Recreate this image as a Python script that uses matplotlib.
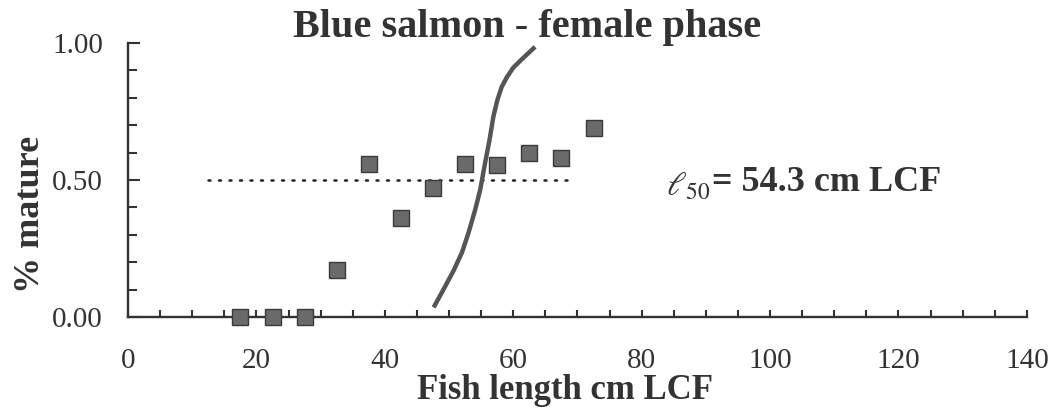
import matplotlib
matplotlib.use('Agg')
import matplotlib.pyplot as plt
from matplotlib.ticker import MultipleLocator

plt.rcParams['font.family'] = ['Liberation Serif', 'DejaVu Serif']
plt.rcParams['mathtext.fontset'] = 'stix'

# observed proportion mature by 5 cm length class (midpoints)
length_mid = [17.5, 22.5, 27.5, 32.5, 37.5, 42.5, 47.5, 52.5, 57.5, 62.5, 67.5, 72.5]
prop_mature = [0.0, 0.0, 0.0, 0.17, 0.56, 0.36, 0.47, 0.56, 0.555, 0.60, 0.58, 0.69]

# fitted maturity ogive
ogive_len = [47.6, 49.1, 50.7, 52.0, 53.0, 54.05, 54.85, 55.6, 56.3,
             56.9, 57.5, 58.2, 59.0, 60.0, 61.3, 63.4]
ogive_p = [0.035, 0.099, 0.169, 0.235, 0.305, 0.39, 0.464, 0.561, 0.646,
           0.731, 0.79, 0.84, 0.875, 0.91, 0.94, 0.986]

half_line_x = [12.5, 69.5]
half_line_y = [0.5, 0.5]

text_col = '#333333'

fig = plt.figure(figsize=(10.53, 4.16), dpi=100)
ax = fig.add_axes([0.1216, 0.238, 0.8536, 0.6586])

ax.plot(half_line_x, half_line_y, color='#222222', lw=1.8,
        linestyle=(0, (0.8, 3.4)), dash_capstyle='round')
ax.plot(ogive_len, ogive_p, color='#555555', lw=3.2, solid_capstyle='butt',
        solid_joinstyle='round', clip_on=False, zorder=3)
ax.plot(length_mid, prop_mature, 's', markersize=11.5, color='#6a6a6a',
        markeredgecolor='#3a3a3a', markeredgewidth=1.0, clip_on=False, zorder=4)

ax.set_xlim(0, 140)
ax.set_ylim(0, 1)
for side in ['top', 'right']:
    ax.spines[side].set_visible(False)
for side in ['left', 'bottom']:
    ax.spines[side].set_linewidth(1.7)
    ax.spines[side].set_color('#333333')

ax.xaxis.set_major_locator(MultipleLocator(20))
ax.xaxis.set_minor_locator(MultipleLocator(5))
ax.yaxis.set_minor_locator(MultipleLocator(0.1))
ax.set_yticks([0, 0.5, 1.0])
ax.set_yticklabels(['0.00', '0.50', '1.00'])

ax.tick_params(axis='x', which='both', direction='in', length=5, width=1.5,
               color='#333333', pad=22, labelsize=21, labelcolor=text_col)
ax.tick_params(axis='y', which='major', direction='in', length=8.5, width=1.5,
               color='#333333', pad=18, labelsize=21, labelcolor=text_col)
ax.tick_params(axis='y', which='minor', direction='in', length=6.5, width=1.5,
               color='#333333')

ax.set_xlabel('Fish length cm LCF', fontsize=25, fontweight='bold', color=text_col)
ax.xaxis.label.set_va('baseline')
ax.xaxis.set_label_coords(0.486, -0.298)
ax.set_ylabel('% mature', fontsize=26, fontweight='bold', color=text_col)
ax.yaxis.label.set_va('center')
ax.yaxis.set_label_coords(-0.109, 0.376)

fig.text(527 / 1053, 1 - 37 / 416, 'Blue salmon - female phase', fontsize=29,
         fontweight='bold', color=text_col, ha='center', va='baseline')

l50 = ax.text(83.8, 0.475, r'$\ell_{50}$', fontsize=24, color=text_col,
              ha='left', va='center')
ax.annotate('= 54.3 cm LCF', xy=(1, 0.5), xycoords=l50, xytext=(1, 3),
            textcoords='offset points', fontsize=26, fontweight='bold',
            color=text_col, ha='left', va='center')

fig.savefig('out.png', dpi=100)
